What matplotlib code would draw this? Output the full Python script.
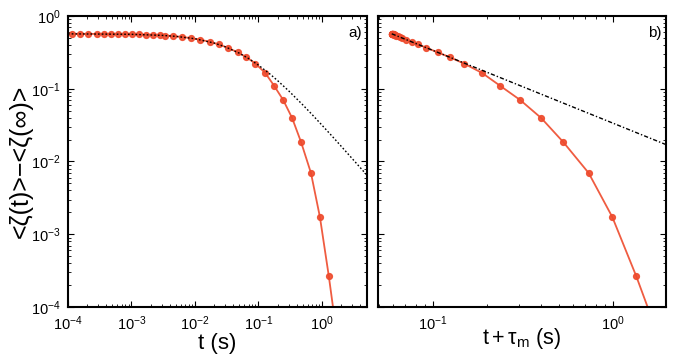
import matplotlib
matplotlib.use("Agg")
import matplotlib.pyplot as plt
import numpy as np

plt.rcParams['font.family'] = ['Liberation Sans', 'DejaVu Sans']
plt.rcParams['mathtext.fontset'] = 'custom'
plt.rcParams['mathtext.rm'] = 'Liberation Sans'
plt.rcParams['mathtext.it'] = 'Liberation Sans'

# measured relaxation <zeta(t)> - <zeta(inf)>, marker points
t_pts = [1.155e-4, 1.54e-4, 2.054e-4, 2.84e-4, 3.65e-4, 4.70e-4, 6.04e-4, 8.05e-4,
         1.038e-3, 1.334e-3, 1.714e-3, 2.208e-3, 2.838e-3, 3.40e-3, 4.53e-3, 6.27e-3,
         8.66e-3, 0.01197, 0.01714, 0.02371, 0.0328, 0.0470, 0.0649, 0.0897,
         0.1285, 0.178, 0.246, 0.340, 0.470, 0.673, 0.931, 1.285]
zeta_pts = [0.5689, 0.5685, 0.5680, 0.5673, 0.5665, 0.5655, 0.5642, 0.5623,
            0.5601, 0.5574, 0.5539, 0.5494, 0.5438, 0.5389, 0.5294, 0.5152,
            0.497, 0.4739, 0.4417, 0.4066, 0.3663, 0.3173, 0.2714, 0.222,
            0.1646, 0.109, 0.070, 0.0396, 0.0185, 0.00695, 0.00173, 0.000267]
# where the red curve leaves the bottom of the axes
t_end = 1.6
zeta_end = 6.5e-5

# power law fit  A / (t + tau_m)
tau_m = 0.059
t_fit = [1e-4, 1e-3, 3e-3, 5e-3, 0.01, 0.02, 0.03, 0.05, 0.07, 0.1, 0.15, 0.2,
         0.3, 0.5, 0.7, 1.0, 1.5, 2.0, 3.0, 5.0]
zeta_fit = [0.5685, 0.56, 0.5419, 0.525, 0.487, 0.4253, 0.3775, 0.3083, 0.2605,
            0.2113, 0.1608, 0.1297, 0.0936, 0.0601, 0.0443, 0.0317, 0.02157,
            0.01632, 0.01098, 0.00665]
x_fit_b = [0.059, 2.0]
zeta_fit_b = [0.5695, 0.0168]

red = '#ee4a2c'

fig = plt.figure(figsize=(6.73, 3.54), dpi=100)
ax1 = fig.add_axes([0.101, 0.1328, 0.444, 0.822])
ax2 = fig.add_axes([0.5617, 0.1328, 0.428, 0.822])

t_line = t_pts + [t_end]
z_line = zeta_pts + [zeta_end]
marks = list(range(len(t_pts)))

ax1.plot(t_fit, zeta_fit, color='k', lw=1.0, ls=(0, (1.2, 1.5)), zorder=3)
ax1.plot(t_line, z_line, color=red, lw=1.3, marker='o', ms=4.2,
         markevery=marks, mfc=red, mec=red, alpha=0.9, zorder=2)

xb = [t + tau_m for t in t_line]
ax2.plot(x_fit_b, zeta_fit_b, color='k', lw=1.0, ls=(0, (3, 1.5, 1, 1.5)), zorder=3)
ax2.plot(xb, z_line, color=red, lw=1.3, marker='o', ms=4.2,
         markevery=marks, mfc=red, mec=red, alpha=0.9, zorder=2)

for ax in (ax1, ax2):
    ax.set_xscale('log')
    ax.set_yscale('log')
    ax.set_ylim(1e-4, 1)
    ax.tick_params(which='both', direction='in', top=True, right=True, labelsize=10.5)
    ax.tick_params(which='major', length=4, width=0.8, pad=5)
    ax.tick_params(which='minor', length=2, width=0.6)
    for s in ax.spines.values():
        s.set_linewidth(1.5)

ax1.set_xlim(1e-4, 5.1)
ax1.set_xticks([1e-4, 1e-3, 1e-2, 1e-1, 1e0])
ax1.set_yticks([1e-4, 1e-3, 1e-2, 1e-1, 1e0])
ax1.set_xlabel('t (s)', fontsize=16, labelpad=0)
ax1.set_ylabel('<ζ(t)>−<ζ(∞)>', fontsize=18, labelpad=-1)
ax1.text(0.985, 0.965, 'a)', transform=ax1.transAxes, ha='right', va='top', fontsize=11)

ax2.set_xlim(0.0495, 1.97)
ax2.set_xticks([1e-1, 1e0])
ax2.set_yticks([1e-4, 1e-3, 1e-2, 1e-1, 1e0])
ax2.set_yticklabels([])
ax2.set_xlabel(r'$\mathregular{t+\tau_m}$ (s)', fontsize=15.5, labelpad=-5)
ax2.text(0.985, 0.965, 'b)', transform=ax2.transAxes, ha='right', va='top', fontsize=11)

fig.savefig('out.png', dpi=100)
